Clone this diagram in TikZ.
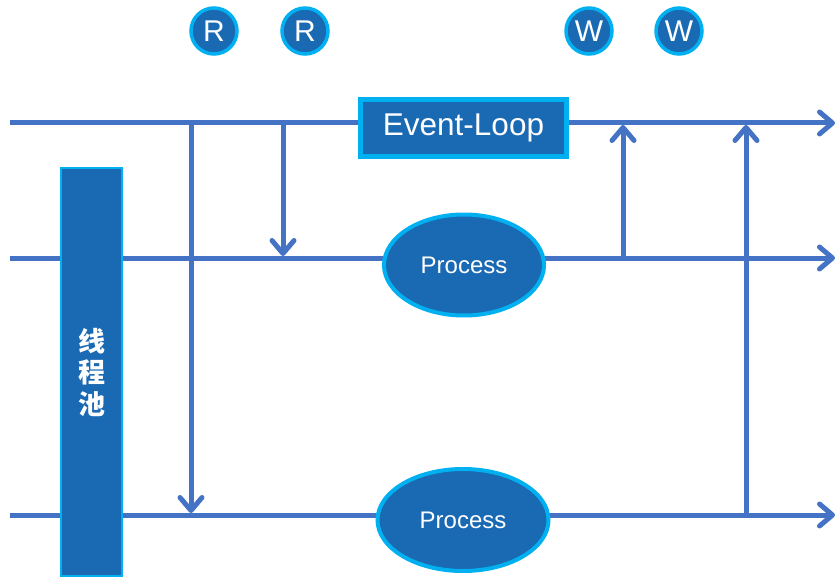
\documentclass[tikz,border=0pt]{standalone}
\usepackage{fontspec}
\setmainfont{Liberation Sans}
\newfontfamily\cjkfont{Noto Sans CJK SC}
\usepackage{tikz}
\usetikzlibrary{arrows.meta,shapes.geometric}
\definecolor{lineblue}{HTML}{4472C4}
\definecolor{fillblue}{HTML}{1A69B3}
\definecolor{edgecyan}{HTML}{00B0F0}

\begin{document}
\begin{tikzpicture}[x=1pt,y=-1pt,
  wire/.style={draw=lineblue,line width=5pt},
  flow/.style={wire,-{Straight Barb[length=13pt,width=22pt,line width=5pt,line cap=round,line join=round]}},
  ioball/.style={circle,fill=fillblue,draw=edgecyan,line width=3.5pt,text=white,minimum size=46pt,inner sep=0pt,font=\fontsize{30}{32}\selectfont},
  loopbox/.style={rectangle,fill=fillblue,draw=edgecyan,line width=5pt,text=white,minimum width=206pt,minimum height=57pt,inner sep=0pt,font=\fontsize{31.5}{33}\selectfont},
  pool/.style={rectangle,fill=fillblue,draw=edgecyan,line width=2pt,text=white,minimum width=61pt,minimum height=408pt,inner sep=0pt,align=center,font=\cjkfont\bfseries\fontsize{27}{31.5}\selectfont},
  proc/.style={ellipse,fill=fillblue,draw=edgecyan,line width=4pt,text=white,inner sep=0pt,font=\fontsize{24}{26}\selectfont}]
\useasboundingbox (0,0) rectangle (837,577);
\coordinate (a0) at (10,123);
\coordinate (a1) at (835,123);
\coordinate (b0) at (10,258);
\coordinate (b1) at (835,258);
\coordinate (c0) at (10,515);
\coordinate (c1) at (835,515);
\coordinate (d1) at (191,123);
\coordinate (d2) at (191,513);
\coordinate (e1) at (283,123);
\coordinate (e2) at (283,256);
\coordinate (f1) at (623,258);
\coordinate (f2) at (623,125);
\coordinate (g1) at (746,515);
\coordinate (g2) at (746,125);
\draw [flow] (a0) -- (a1);
\draw [flow] (b0) -- (b1);
\draw [flow] (c0) -- (c1);
\draw [flow] (d1) -- (d2);
\draw [flow] (e1) -- (e2);
\draw [flow] (f1) -- (f2);
\draw [flow] (g1) -- (g2);
\node [ioball] (r1) at (214,31) {R};
\node [ioball] (r2) at (305,31) {R};
\node [ioball] (w1) at (589,31) {W};
\node [ioball] (w2) at (679,31) {W};
\node [loopbox] (loop) at (463.5,128) {Event-Loop};
\node [pool] (threads) at (91.5,372) {线\\程\\池};
\node [proc,minimum width=160pt,minimum height=101pt] (p1) at (464,265) {Process};
\node [proc,minimum width=171pt,minimum height=102pt] (p2) at (463,520) {Process};
\end{tikzpicture}
\end{document}
